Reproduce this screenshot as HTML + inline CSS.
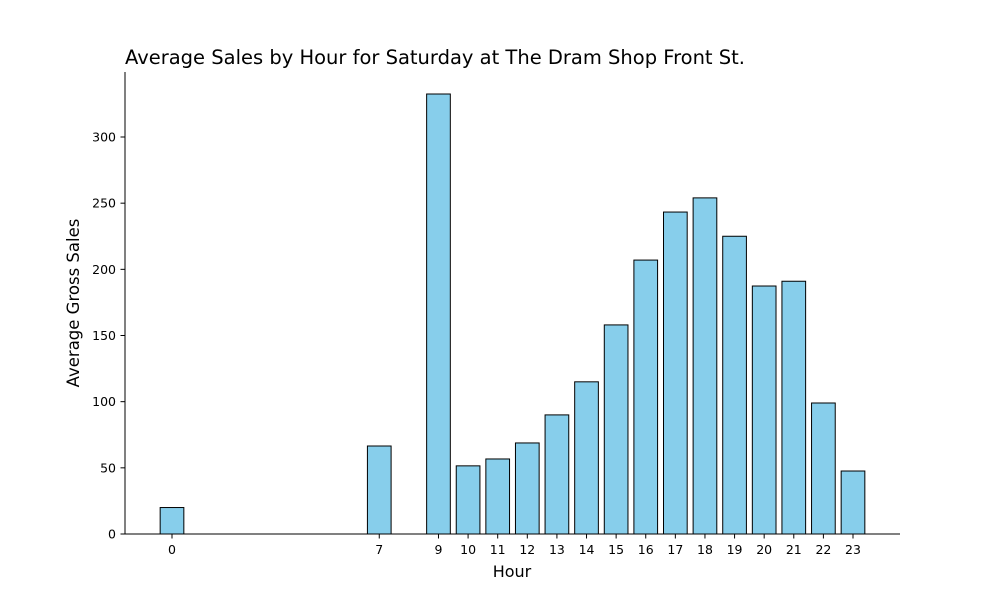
<!DOCTYPE html>
<html><head><meta charset="utf-8"><style>
body{margin:0;background:#fff}
svg{display:block;font-family:"DejaVu Sans","Liberation Sans",sans-serif}
</style></head><body>
<svg id="chart" width="1000" height="600" viewBox="0 0 1000 600" xmlns="http://www.w3.org/2000/svg">
<rect width="1000" height="600" fill="#fff"/>
<text x="125" y="64" font-size="19.5" textLength="620" lengthAdjust="spacingAndGlyphs" fill="#000">Average Sales by Hour for Saturday at The Dram Shop Front St.</text>
<g id="bars"></g>
<g id="yticks"></g>
<g id="xticks"></g>
<line x1="125" y1="72" x2="125" y2="534.5" stroke="#000" stroke-width="1"/>
<line x1="124.5" y1="534" x2="900" y2="534" stroke="#000" stroke-width="1"/>
<text x="512" y="577" font-size="16" text-anchor="middle">Hour</text>
<text transform="translate(79,303) rotate(-90)" font-size="16.5" text-anchor="middle">Average Gross Sales</text>
</svg>
<script>
const hours = [0,7,9,10,11,12,13,14,15,16,17,18,19,20,21,22,23];
const sales = [20,66.5,332.5,51.5,56.7,68.8,90,115,158,207,243.3,254,225,187.4,191,99,47.6];
const yTickValues = [0,50,100,150,200,250,300];

const NS="http://www.w3.org/2000/svg";
function xScale(h){return 172+h*(681/23);}
function yScale(v){return 534-v*1.3233;}
const bw=0.8*(681/23);
const bars=document.getElementById('bars');
const xt=document.getElementById('xticks');
const yt=document.getElementById('yticks');
hours.forEach((h,i)=>{
  const r=document.createElementNS(NS,'rect');
  
  
  r.setAttribute('x',xScale(h)-bw/2);
  r.setAttribute('y',yScale(sales[i]));
  r.setAttribute('width',bw);
  r.setAttribute('height',534-yScale(sales[i]));
  r.setAttribute('fill','#87ceeb');
  r.setAttribute('stroke','#000');
  r.setAttribute('stroke-width','1');
  bars.appendChild(r);
  const l=document.createElementNS(NS,'line');
  
  
  l.setAttribute('x1',xScale(h));l.setAttribute('x2',xScale(h));
  l.setAttribute('y1',534);l.setAttribute('y2',538.5);
  l.setAttribute('stroke','#000');
  xt.appendChild(l);
  const t=document.createElementNS(NS,'text');
  
  
  t.setAttribute('x',xScale(h));t.setAttribute('y',554);
  t.setAttribute('font-size','12.5');t.setAttribute('text-anchor','middle');
  t.textContent=h;
  xt.appendChild(t);
});
yTickValues.forEach(v=>{
  const l=document.createElementNS(NS,'line');
  
  
  l.setAttribute('x1',120.5);l.setAttribute('x2',125);
  l.setAttribute('y1',yScale(v));l.setAttribute('y2',yScale(v));
  l.setAttribute('stroke','#000');
  yt.appendChild(l);
  const t=document.createElementNS(NS,'text');
  
  
  t.setAttribute('x',116);t.setAttribute('y',yScale(v)+4.5);
  t.setAttribute('font-size','12.5');t.setAttribute('text-anchor','end');
  t.textContent=v;
  yt.appendChild(t);
});
</script>
</body></html>
